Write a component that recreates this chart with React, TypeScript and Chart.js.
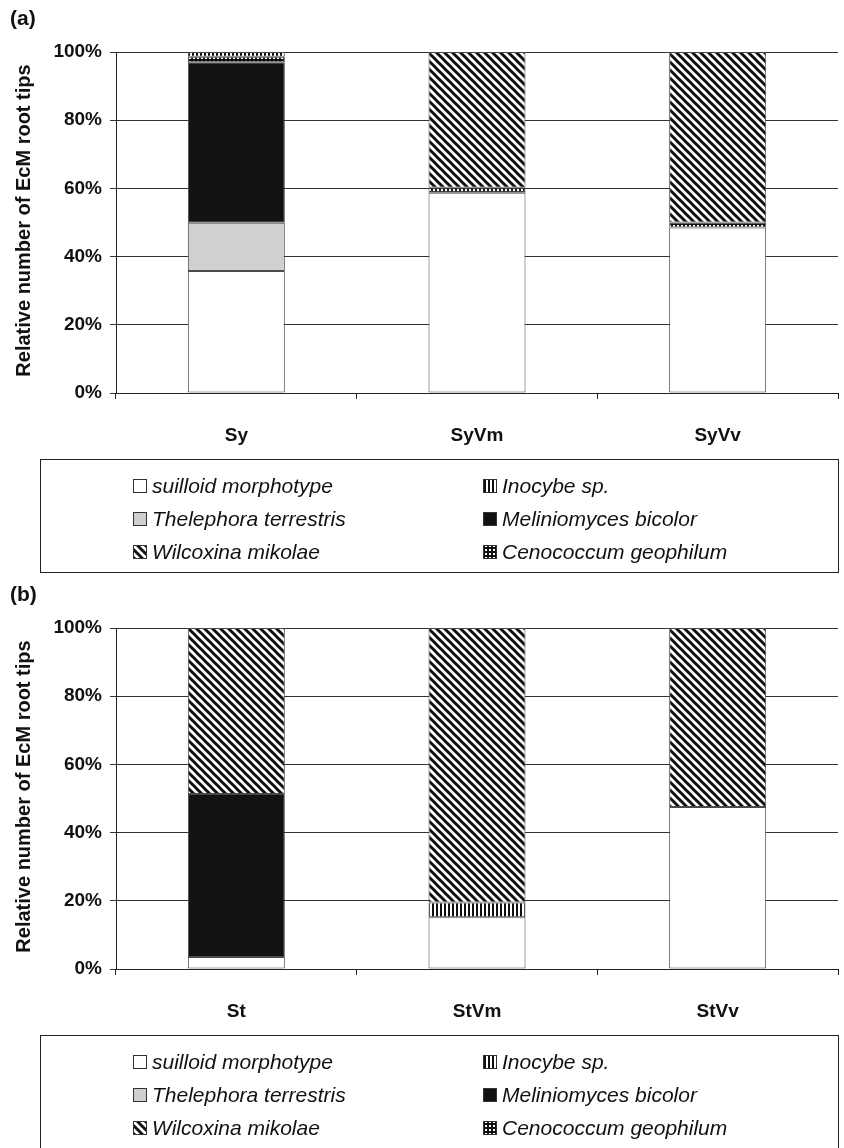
import React, { useEffect, useRef } from 'react';
import { Chart, registerables } from 'chart.js';
Chart.register(...registerables);

const categoriesA = ['Sy', 'SyVm', 'SyVv'];
const suilloidA = [35.8, 58.7, 48.5];
const thelephoraA = [14.1, 0, 0];
const meliniomycesA = [47.1, 0, 0];
const cenococcumA = [1.6, 1.5, 1.5];
const inocybeA = [1.4, 0, 0];
const wilcoxinaA = [0, 39.8, 50];

const categoriesB = ['St', 'StVm', 'StVv'];
const suilloidB = [3.5, 15.2, 47.5];
const thelephoraB = [0, 0, 0];
const meliniomycesB = [47.8, 0, 0];
const cenococcumB = [0, 0, 0];
const inocybeB = [0, 4.3, 0];
const wilcoxinaB = [48.7, 80.5, 52.5];

const yTickValues = [0, 20, 40, 60, 80, 100];
const yTitle = 'Relative number of EcM root tips';
const legendColumns = [
  ['suilloid morphotype', 'Thelephora terrestris', 'Wilcoxina mikolae'],
  ['Inocybe sp.', 'Meliniomyces bicolor', 'Cenococcum geophilum'],
];

const FONT = '"Liberation Sans", Arial, sans-serif';

type Kind = 'white' | 'grey' | 'black' | 'diag' | 'vert' | 'grid';

function makeFill(kind: Kind): any {
  if (kind === 'white') return '#ffffff';
  if (kind === 'grey') return '#d0d0d0';
  if (kind === 'black') return '#121212';
  const c = document.createElement('canvas');
  const ctx = c.getContext('2d')!;
  if (kind === 'diag') {
    c.width = 8; c.height = 8;
    ctx.fillStyle = '#fff'; ctx.fillRect(0, 0, 8, 8);
    ctx.strokeStyle = '#111'; ctx.lineWidth = 3;
    for (const k of [-8, 0, 8]) {
      ctx.beginPath(); ctx.moveTo(-2, -2 + k); ctx.lineTo(10, 10 + k); ctx.stroke();
    }
  } else if (kind === 'vert') {
    c.width = 4; c.height = 4;
    ctx.fillStyle = '#fff'; ctx.fillRect(0, 0, 4, 4);
    ctx.fillStyle = '#111'; ctx.fillRect(0, 0, 2, 4);
  } else {
    c.width = 4; c.height = 4;
    ctx.fillStyle = '#111'; ctx.fillRect(0, 0, 4, 4);
    ctx.fillStyle = '#fff'; ctx.fillRect(1, 1, 2, 2);
  }
  return ctx.createPattern(c, 'repeat');
}

const legendKinds: Kind[][] = [
  ['white', 'grey', 'diag'],
  ['vert', 'black', 'grid'],
];

function nz(a: number[]) { return a.map((v) => (v === 0 ? null : v)); }

function Panel({ label, categories, series, height }: any) {
  const ref = useRef<HTMLCanvasElement | null>(null);
  useEffect(() => {
    const fills: Record<Kind, any> = {
      white: makeFill('white'), grey: makeFill('grey'), black: makeFill('black'),
      diag: makeFill('diag'), vert: makeFill('vert'), grid: makeFill('grid'),
    };
    const defs: [string, Kind, number[]][] = [
      ['suilloid morphotype', 'white', series.suilloid],
      ['Thelephora terrestris', 'grey', series.thelephora],
      ['Meliniomyces bicolor', 'black', series.meliniomyces],
      ['Cenococcum geophilum', 'grid', series.cenococcum],
      ['Inocybe sp.', 'vert', series.inocybe],
      ['Wilcoxina mikolae', 'diag', series.wilcoxina],
    ];
    const panelPlugin = {
      id: 'panelDeco',
      afterDraw(chart: any) {
        const ctx = chart.ctx;
        const area = chart.chartArea;
        ctx.save();
        ctx.fillStyle = '#111';
        ctx.font = `bold 21px ${FONT}`;
        ctx.textAlign = 'left'; ctx.textBaseline = 'middle';
        ctx.fillText(label, 10, 19);
        // y title
        ctx.save();
        ctx.translate(24, (area.top + area.bottom) / 2 - 2);
        ctx.rotate(-Math.PI / 2);
        ctx.textAlign = 'center';
        ctx.font = `bold 20px ${FONT}`;
        ctx.fillText(yTitle, 0, 0);
        ctx.restore();
        // legend box
        const bx = 40, by = 459, bw = 798, bh = 113;
        ctx.strokeStyle = '#222'; ctx.lineWidth = 1;
        ctx.strokeRect(bx + 0.5, by + 0.5, bw, bh);
        const colX = [133, 483];
        const rowY = [486, 519, 552];
        ctx.font = `italic 21px ${FONT}`;
        ctx.textAlign = 'left'; ctx.textBaseline = 'middle';
        for (let c = 0; c < 2; c++) {
          for (let r = 0; r < 3; r++) {
            const sx = colX[c], sy = rowY[r] - 7;
            ctx.fillStyle = fills[legendKinds[c][r]];
            ctx.fillRect(sx, sy, 14, 14);
            ctx.strokeStyle = '#333';
            ctx.strokeRect(sx + 0.5, sy + 0.5, 13, 13);
            ctx.fillStyle = '#111';
            ctx.fillText(legendColumns[c][r], sx + 19, rowY[r] + 1);
          }
        }
        ctx.restore();
      },
    };
    const chart = new Chart(ref.current!, {
      type: 'bar',
      data: {
        labels: categories,
        datasets: defs.map(([name, kind, vals]) => ({
          label: name,
          data: nz(vals),
          backgroundColor: fills[kind],
          borderColor: '#4a4a4a',
          borderWidth: 1,
          borderSkipped: false,
          barPercentage: 0.403,
          categoryPercentage: 1,
        })),
      },
      options: {
        responsive: false,
        animation: false,
        layout: { padding: { left: 0, top: 52, right: 6, bottom: height - 393 - 60 } },
        plugins: { legend: { display: false }, tooltip: { enabled: false }, title: { display: false } },
        scales: {
          x: {
            stacked: true,
            afterFit: (s: any) => { s.height = 60; },
            grid: { offset: true, drawOnChartArea: false, tickLength: 6, color: '#222' },
            border: { color: '#222', width: 1 },
            ticks: { font: { family: FONT, size: 19, weight: 'bold' }, color: '#111', padding: 25 },
          },
          y: {
            stacked: true,
            min: 0, max: 100,
            afterFit: (s: any) => { s.width = 116; },
            afterBuildTicks: (s: any) => { s.ticks = yTickValues.map((v) => ({ value: v })); },
            grid: { tickLength: 6, color: '#333', lineWidth: 1 },
            border: { color: '#222', width: 1 },
            ticks: {
              font: { family: FONT, size: 19, weight: 'bold' }, color: '#111', padding: 8,
              callback: (v: any) => `${v}%`,
            },
          },
        },
      },
      plugins: [panelPlugin],
    } as any);
    return () => chart.destroy();
  }, []);
  return <canvas ref={ref} width={844} height={height} style={{ display: 'block' }} />;
}

export default function App() {
  return (
    <div style={{ position: 'absolute', left: 0, top: 0, width: 844, height: 1148, background: '#fff', overflow: 'hidden' }}>
      <div style={{ position: 'absolute', left: 0, top: 0 }}>
        <Panel
          label="(a)"
          categories={categoriesA}
          height={574}
          series={{ suilloid: suilloidA, thelephora: thelephoraA, meliniomyces: meliniomycesA, cenococcum: cenococcumA, inocybe: inocybeA, wilcoxina: wilcoxinaA }}
        />
      </div>
      <div style={{ position: 'absolute', left: 0, top: 576 }}>
        <Panel
          label="(b)"
          categories={categoriesB}
          height={574}
          series={{ suilloid: suilloidB, thelephora: thelephoraB, meliniomyces: meliniomycesB, cenococcum: cenococcumB, inocybe: inocybeB, wilcoxina: wilcoxinaB }}
        />
      </div>
    </div>
  );
}
